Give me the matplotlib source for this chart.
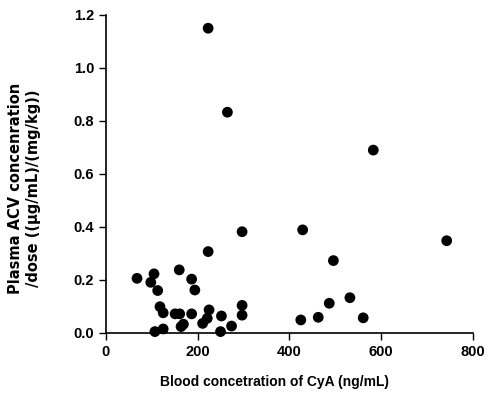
import matplotlib
matplotlib.use('Agg')
import matplotlib.pyplot as plt

plt.rcParams['font.family'] = ['Liberation Sans', 'DejaVu Sans']
plt.rcParams['font.weight'] = 'bold'

# blood CyA concentration (ng/mL) and plasma ACV conc / dose
cya = [223, 265, 583, 429, 496, 743, 487, 532, 425, 463, 561,
       68, 105, 98, 113, 118, 125, 107, 125, 160, 151, 161, 164, 169,
       187, 194, 187, 223, 225, 221, 211, 252, 250, 274, 297, 297, 297]
acv = [1.15, 0.833, 0.69, 0.389, 0.273, 0.348, 0.112, 0.133, 0.049, 0.059, 0.057,
       0.206, 0.223, 0.191, 0.160, 0.099, 0.076, 0.005, 0.015, 0.238, 0.072, 0.072, 0.024, 0.033,
       0.203, 0.162, 0.072, 0.307, 0.087, 0.055, 0.036, 0.064, 0.005, 0.026, 0.382, 0.104, 0.067]

x_ticks = [0, 200, 400, 600, 800]
y_ticks = [0.0, 0.2, 0.4, 0.6, 0.8, 1.0, 1.2]

fig = plt.figure(figsize=(4.9, 3.94), dpi=100)
ax = fig.add_axes([0.216, 0.155, 0.749, 0.807])

ax.scatter(cya, acv, s=60, color='black', edgecolors='none', clip_on=False, zorder=3)

ax.set_xlim(0, 800)
ax.set_ylim(0, 1.2)
ax.set_xticks(x_ticks)
ax.set_yticks(y_ticks)
ax.set_yticklabels(['%.1f' % v for v in y_ticks])
ax.spines['top'].set_visible(False)
ax.spines['right'].set_visible(False)
ax.spines['left'].set_linewidth(1.2)
ax.spines['bottom'].set_linewidth(1.2)
ax.tick_params(direction='out', length=5, width=1, labelsize=10.5, colors='black')
for lab in ax.get_xticklabels() + ax.get_yticklabels():
    lab.set_fontweight('bold')

fig.text(0.56, 0.012, 'Blood concetration of CyA (ng/mL)', ha='center', va='bottom',
         fontsize=10, fontweight='bold')
ylab_font = ['DejaVu Sans']
fig.text(0.031, 0.523, 'Plasma ACV concenration', rotation=90, ha='center', va='center',
         fontsize=10.5, fontweight='bold', family=ylab_font)
fig.text(0.068, 0.523, '/dose ((\u03bcg/mL)/(mg/kg))', rotation=90, ha='center', va='center',
         fontsize=10.5, fontweight='bold', family=ylab_font)

fig.savefig('out.png', dpi=100)
